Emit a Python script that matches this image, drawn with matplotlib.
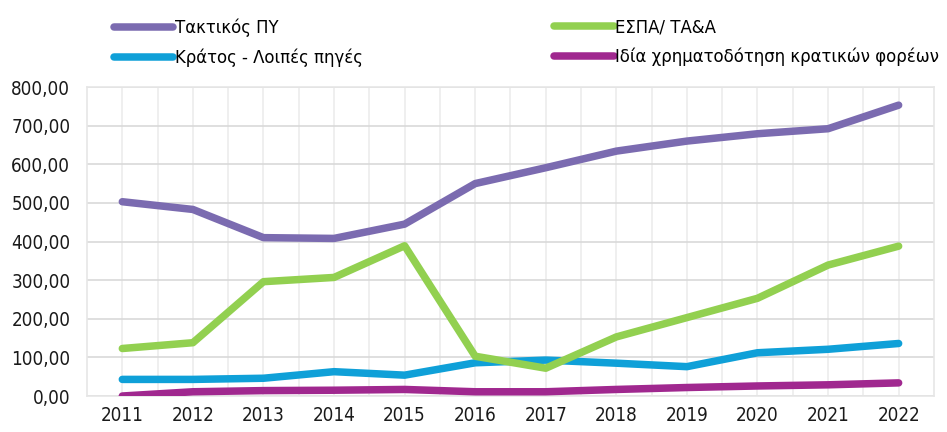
import matplotlib
matplotlib.use("Agg")
import matplotlib.pyplot as plt
from matplotlib.ticker import FuncFormatter, MultipleLocator

plt.rcParams['font.family'] = ['DejaVu Sans']
plt.rcParams['font.stretch'] = 'condensed'

years = [2011, 2012, 2013, 2014, 2015, 2016, 2017, 2018, 2019, 2020, 2021, 2022]
taktikos = [503, 483, 410, 408, 445, 550, 591, 634, 660, 679, 692, 753]
espa = [123, 138, 296, 307, 389, 103, 72, 153, 203, 253, 339, 388]
kratos = [43, 43, 46, 63, 54, 86, 93, 85, 76, 112, 121, 136]
idia = [0, 11, 14, 15, 17, 11, 11, 17, 22, 26, 29, 34]

labels = ["Τακτικός ΠΥ", "Κράτος - Λοιπές πηγές", "ΕΣΠΑ/ ΤΑ&Α", "Ιδία χρηματοδότηση κρατικών φορέων"]
colors = ["#7B6BB0", "#0FA0D8", "#92D050", "#A0288F"]
series = [taktikos, kratos, espa, idia]

fig = plt.figure(figsize=(9.47, 4.32), dpi=100)
ax = fig.add_axes([0.0919, 0.0833, 0.8943, 0.7153])

handles = []
for s, c, l in zip(series, colors, labels):
    h, = ax.plot(years, s, color=c, lw=5.4, solid_capstyle='round', solid_joinstyle='round', label=l, zorder=3)
    handles.append(h)

ax.set_xlim(2010.5, 2022.5)
ax.set_ylim(0, 800)
ax.yaxis.set_major_locator(MultipleLocator(100))
ax.yaxis.set_major_formatter(FuncFormatter(lambda v, p: f"{v:.2f}".replace('.', ',')))
ax.set_xticks(years)
ax.set_xticks([y + 0.5 for y in years[:-1]], minor=True)
ax.grid(axis='y', which='major', color='#d9d9d9', lw=1.2)
ax.grid(axis='x', which='both', color='#ececec', lw=1.2)
ax.tick_params(length=0, which='both', labelsize=13.5, colors='#1a1a1a')
ax.tick_params(axis='x', pad=7)
ax.tick_params(axis='y', pad=12)
for sp in ax.spines.values():
    sp.set_color('#e6e6e6')
    sp.set_linewidth(1.2)
ax.set_axisbelow(True)

leg_kw = dict(frameon=False, fontsize=13.2, handlelength=3.25, handletextpad=0.08,
              labelspacing=0.62, borderaxespad=0, borderpad=0)
leg1 = fig.legend(handles=[handles[0], handles[1]], labels=[labels[0], labels[1]],
                  loc='upper left', bbox_to_anchor=(0.1202, 0.957), **leg_kw)
leg2 = fig.legend(handles=[handles[2], handles[3]], labels=[labels[2], labels[3]],
                  loc='upper left', bbox_to_anchor=(0.585, 0.957), **leg_kw)

fig.savefig("out.png", dpi=100)
